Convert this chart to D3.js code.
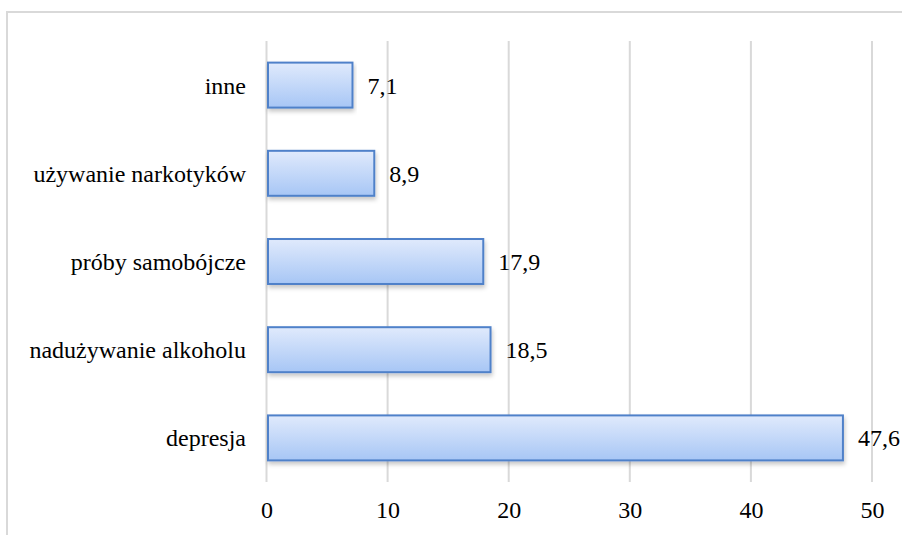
<!DOCTYPE html>
<html><head><meta charset="utf-8">
<script src="https://cdn.jsdelivr.net/npm/d3@7"></script>
<style>body{margin:0;background:#fff}svg{display:block}</style>
</head><body>
<script>
const categories = ["inne","używanie narkotyków","próby samobójcze","nadużywanie alkoholu","depresja"];
const values = [7.1, 8.9, 17.9, 18.5, 47.6];
const xTicks = [0,10,20,30,40,50];

const W=902,H=535;
const FONT='"Liberation Serif","Times New Roman",Times,serif';
const FS="24px";
const svg=d3.select("body").append("svg").attr("width",W).attr("height",H);
const defs=svg.append("defs");
const g1=defs.append("linearGradient").attr("id","bg").attr("x1",0).attr("y1",0).attr("x2",0).attr("y2",1);
g1.append("stop").attr("offset","0%").attr("stop-color","#e0eafc");
g1.append("stop").attr("offset","100%").attr("stop-color","#a7c6f5");
const f=defs.append("filter").attr("id","sh").attr("x","-5%").attr("y","-20%").attr("width","110%").attr("height","160%");
f.append("feDropShadow").attr("dx",1).attr("dy",3).attr("stdDeviation",2).attr("flood-color","#000").attr("flood-opacity",0.22);

svg.append("rect").attr("x",7).attr("y",12).attr("width",W).attr("height",H).attr("fill","none").attr("stroke","#d9d9d9").attr("stroke-width",2);

const x=d3.scaleLinear().domain([0,50]).range([266.5,872]);
const y=d3.scaleBand().domain(categories).range([41,482]).paddingInner(0.49).paddingOuter(0.245);

svg.append("g").selectAll("line").data(xTicks).join("line")
 .attr("x1",d=>x(d)).attr("x2",d=>x(d)).attr("y1",41).attr("y2",482)
 .attr("stroke","#d9d9d9").attr("stroke-width",2);

const ax=svg.append("g").attr("transform","translate(0,482)")
 .call(d3.axisBottom(x).tickValues(xTicks).tickSize(0).tickPadding(19).tickFormat(d3.format("d")));
ax.attr("font-family",null).attr("font-size",null);
ax.select(".domain").remove();
ax.selectAll("text").style("font-family",FONT).style("font-size",FS).attr("fill","#000");

svg.append("g").selectAll("rect").data(values).join("rect")
 .attr("x",x(0)+1.5).attr("y",(d,i)=>y(categories[i]))
 .attr("width",d=>x(d)-x(0)-1.5).attr("height",y.bandwidth())
 .attr("fill","url(#bg)").attr("stroke","#4f81c9").attr("stroke-width",2)
 .attr("filter","url(#sh)");

svg.append("g").selectAll("text").data(categories).join("text")
 .attr("x",246).attr("y",d=>y(d)+y.bandwidth()/2).attr("dy","0.35em")
 .attr("text-anchor","end").style("font-family",FONT)
 .style("font-size",FS).attr("fill","#000").text(d=>d);

svg.append("g").selectAll("text").data(values).join("text")
 .attr("x",d=>x(d)+15).attr("y",(d,i)=>y(categories[i])+y.bandwidth()/2).attr("dy","0.35em")
 .style("font-family",FONT)
 .style("font-size",FS).attr("fill","#000").text(d=>d3.format(".1f")(d).replace(".",","));
</script>
</body></html>
